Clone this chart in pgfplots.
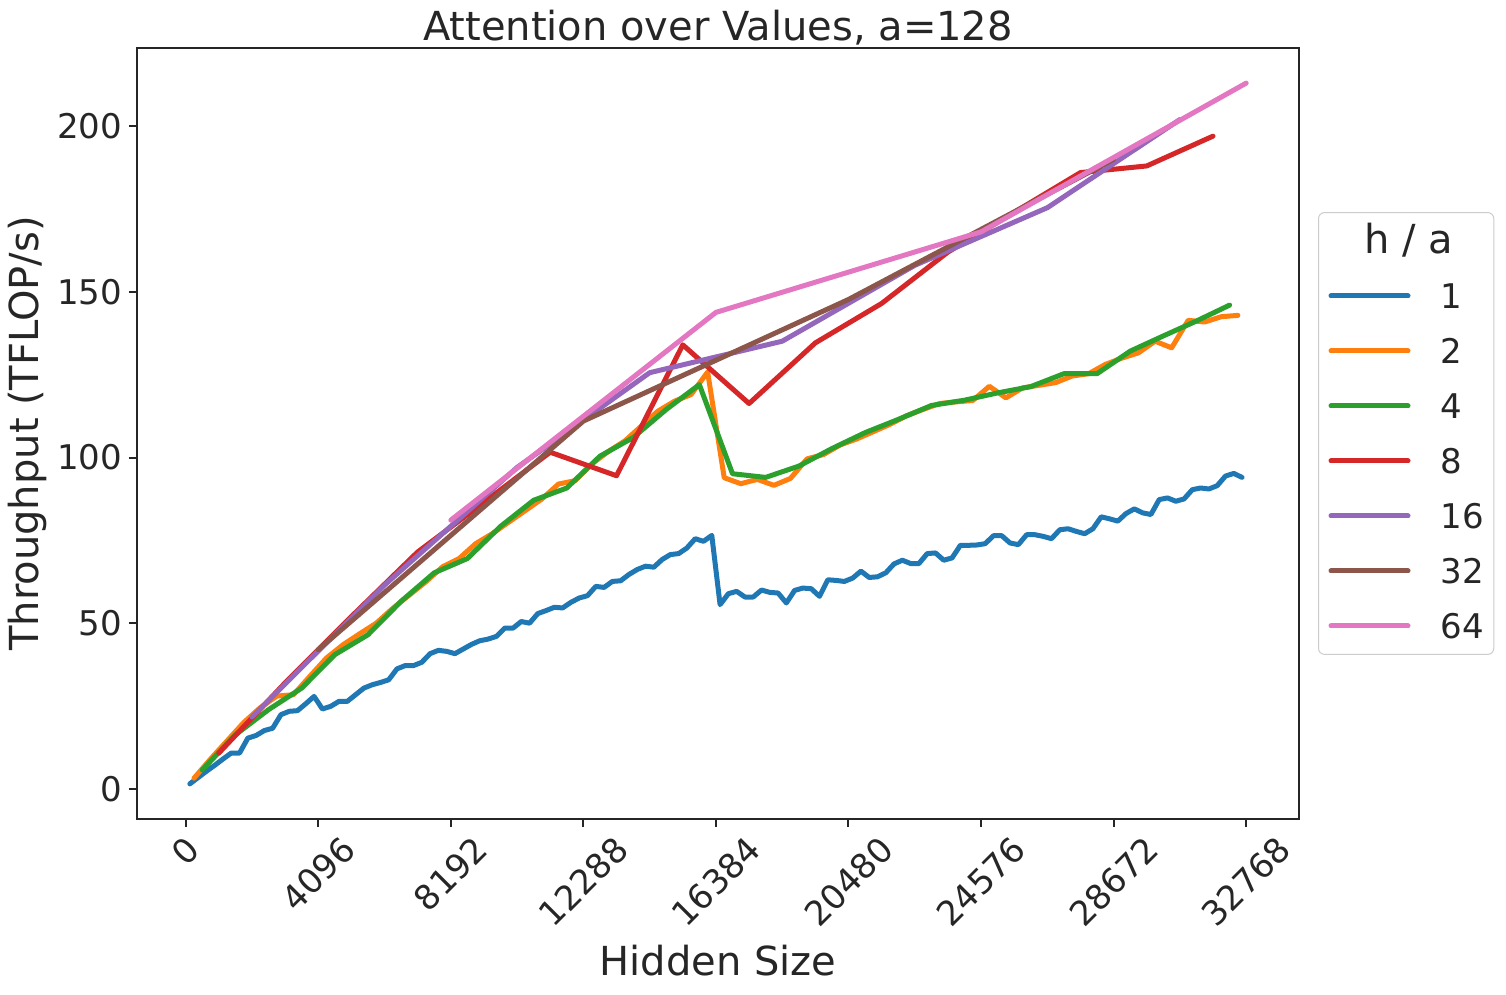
\documentclass[border=0pt]{standalone}
\usepackage{fontspec}
\setmainfont{DejaVu Sans}
\usepackage{graphicx}
\usepackage{pgfplots}
\pgfplotsset{compat=1.18}

\definecolor{tc}{HTML}{262626}
\definecolor{c1}{HTML}{1F77B4}
\definecolor{c2}{HTML}{FF7F0E}
\definecolor{c3}{HTML}{2CA02C}
\definecolor{c4}{HTML}{D62728}
\definecolor{c5}{HTML}{9467BD}
\definecolor{c6}{HTML}{8C564B}
\definecolor{c7}{HTML}{E377C2}

\begin{document}
\begin{tikzpicture}
\begin{axis}[
    name=ax,
    scale only axis,
    width=581pt, height=385.5pt,
    xmin=-1504, xmax=34400,
    ymin=-9.1, ymax=223.6,
    axis line style={tc, line width=1pt},
    tick align=outside,
    major tick length=4pt,
    tick style={tc, line width=1pt},
    xtick pos=left, ytick pos=left,
    scaled x ticks=false, scaled y ticks=false,
    xtick={0,4096,8192,12288,16384,20480,24576,28672,32768},
    xticklabels={\rotatebox{45}{0},\rotatebox{45}{4096},\rotatebox{45}{8192},\rotatebox{45}{12288},\rotatebox{45}{16384},\rotatebox{45}{20480},\rotatebox{45}{24576},\rotatebox{45}{28672},\rotatebox{45}{32768}},
    ytick={0,50,100,150,200},
    /pgf/number format/assume math mode=true,
    tick label style={font=\fontsize{17}{20}\selectfont, text=tc},
    title={Attention over Values, a=128},
    title style={font=\fontsize{20}{24}\selectfont, text=tc, inner sep=0pt, at={(0.5,1)}, anchor=base, yshift=-2.5pt},
    xlabel={Hidden Size},
    xlabel style={font=\fontsize{20}{24}\selectfont, text=tc, inner sep=0pt, at={([yshift=-78.5pt]axis description cs:0.5,0)}, anchor=base},
    ylabel={Throughput (TFLOP/s)},
    ylabel style={font=\fontsize{20}{24}\selectfont, text=tc, inner sep=0pt, at={([xshift=-49pt]axis description cs:0,0.5)}, anchor=base},
    every axis plot/.append style={line width=2.5pt, line cap=round, line join=round},
    legend image code/.code={\draw[#1] (0pt,0pt) -- (38.5pt,0pt);},
    legend cell align=left,
    legend style={at={(1,0.5)}, anchor=west, xshift=9.5pt,
        draw=black!20, line width=0.5pt, rounded corners=3pt, fill=white,
        font=\fontsize{17}{20}\selectfont, text=tc,
        inner xsep=5pt, inner ysep=8pt,
        row sep=15.1pt, column sep=15pt,
        nodes={inner sep=0pt, text height=12.4pt, text depth=0pt}},
]

\addlegendimage{empty legend}
\addlegendentry{\hspace*{-53.5pt}\makebox[75pt][c]{\fontsize{20}{24}\selectfont h / a}}

% h/a = 1
\addplot[c1] table {
x y
128 1.5
384 3.4
640 5.3
896 7.1
1152 9.0
1408 10.8
1664 10.8
1920 15.3
2176 16.1
2432 17.6
2688 18.3
2944 22.4
3200 23.4
3456 23.6
3712 25.7
3968 27.9
4224 24.1
4480 24.9
4736 26.4
4992 26.4
5248 28.4
5504 30.4
5760 31.4
6016 32.1
6272 32.9
6528 36.2
6784 37.2
7040 37.2
7296 38.2
7552 40.8
7808 41.8
8064 41.5
8320 40.8
8576 42.2
8832 43.6
9088 44.7
9344 45.2
9600 46.0
9856 48.5
10112 48.5
10368 50.5
10624 50.0
10880 52.9
11136 53.8
11392 54.8
11648 54.6
11904 56.3
12160 57.6
12416 58.3
12672 61.1
12928 60.8
13184 62.6
13440 62.8
13696 64.7
13952 66.2
14208 67.2
14464 66.9
14720 69.2
14976 70.7
15232 71.0
15488 72.7
15744 75.5
16000 74.7
16256 76.5
16512 55.6
16768 58.9
17024 59.6
17280 57.9
17536 57.9
17792 60.0
18048 59.3
18304 59.1
18560 56.1
18816 59.9
19072 60.6
19328 60.4
19584 58.1
19840 63.1
20096 62.9
20352 62.6
20608 63.6
20864 65.7
21120 63.8
21376 64.0
21632 65.2
21888 67.9
22144 69.0
22400 68.0
22656 68.0
22912 71.0
23168 71.2
23424 69.0
23680 69.7
23936 73.5
24192 73.5
24448 73.6
24704 74.0
24960 76.4
25216 76.4
25472 74.2
25728 73.7
25984 76.7
26240 76.7
26496 76.2
26752 75.5
27008 78.2
27264 78.5
27520 77.7
27776 77.0
28032 78.5
28288 82.1
28544 81.5
28800 80.8
29056 83.1
29312 84.5
29568 83.3
29824 82.8
30080 87.3
30336 87.8
30592 86.8
30848 87.5
31104 90.3
31360 90.8
31616 90.5
31872 91.5
32128 94.4
32384 95.2
32640 94.0
};
\addlegendentry{1}

% h/a = 2
\addplot[c2] table {
x y
256 3.2
768 9.0
1280 14.5
1792 20.0
2304 24.5
2816 28.0
3328 28.4
3840 34.0
4352 39.5
4864 43.5
5376 46.8
5888 50.0
6400 54.5
6912 58.5
7424 62.5
7936 67.0
8448 69.5
8960 74.0
9472 77.0
9984 80.5
10496 84.0
11008 87.5
11520 92.0
12032 93.0
12544 98.0
13056 101.8
13568 105.0
14080 109.5
14592 114.0
15104 117.0
15616 119.0
16128 125.8
16640 93.9
17152 92.1
17664 93.4
18176 91.6
18688 93.7
19200 99.6
19712 100.9
20224 103.8
20736 105.6
21248 107.8
21760 110.0
22272 112.6
22784 114.5
23296 116.3
23808 116.8
24320 117.2
24832 121.5
25344 118.0
25856 121.0
26368 121.8
26880 122.6
27392 124.6
27904 125.3
28416 128.1
28928 130.0
29440 131.6
29952 135.1
30464 133.1
30976 141.4
31488 140.9
32000 142.5
32512 142.9
};
\addlegendentry{2}

% h/a = 4
\addplot[c3] table {
x y
512 5.7
1536 16.3
2560 23.9
3584 30.4
4608 40.5
5632 46.5
6656 56.6
7680 65.2
8704 69.5
9728 79.2
10752 87.1
11776 90.8
12800 100.4
13824 106.0
14848 114.5
15872 122.0
16896 95.1
17920 94.0
18944 97.4
19968 102.7
20992 107.5
22016 111.5
23040 115.7
24064 117.3
25088 119.5
26112 121.4
27136 125.3
28160 125.3
29184 132.1
30208 136.7
31232 141.2
32256 146.0
};
\addlegendentry{4}

% h/a = 8
\addplot[c4] table {
x y
1024 10.8
3072 32.0
5120 52.0
7168 71.5
9216 86.5
11264 101.6
13312 94.5
15360 134.0
17408 116.3
19456 134.6
21504 146.5
23552 162.0
25600 174.0
27648 186.0
29696 188.0
31744 197.0
};
\addlegendentry{8}

% h/a = 16
\addplot[c5] table {
x y
2048 21.7
6144 61.5
10240 97.0
14336 125.6
18432 135.1
22528 158.0
26624 175.4
30720 202.0
};
\addlegendentry{16}

% h/a = 32
\addplot[c6] table {
x y
4096 42.0
12288 111.0
20480 147.7
28672 190.0
};
\addlegendentry{32}

% h/a = 64
\addplot[c7] table {
x y
8192 81.1
16384 143.8
24576 168.1
32768 213.0
};
\addlegendentry{64}

\end{axis}
\path ([xshift=-68.5pt,yshift=-88pt]ax.south west) rectangle ([xshift=103.5pt,yshift=24pt]ax.north east);
\end{tikzpicture}
\end{document}
